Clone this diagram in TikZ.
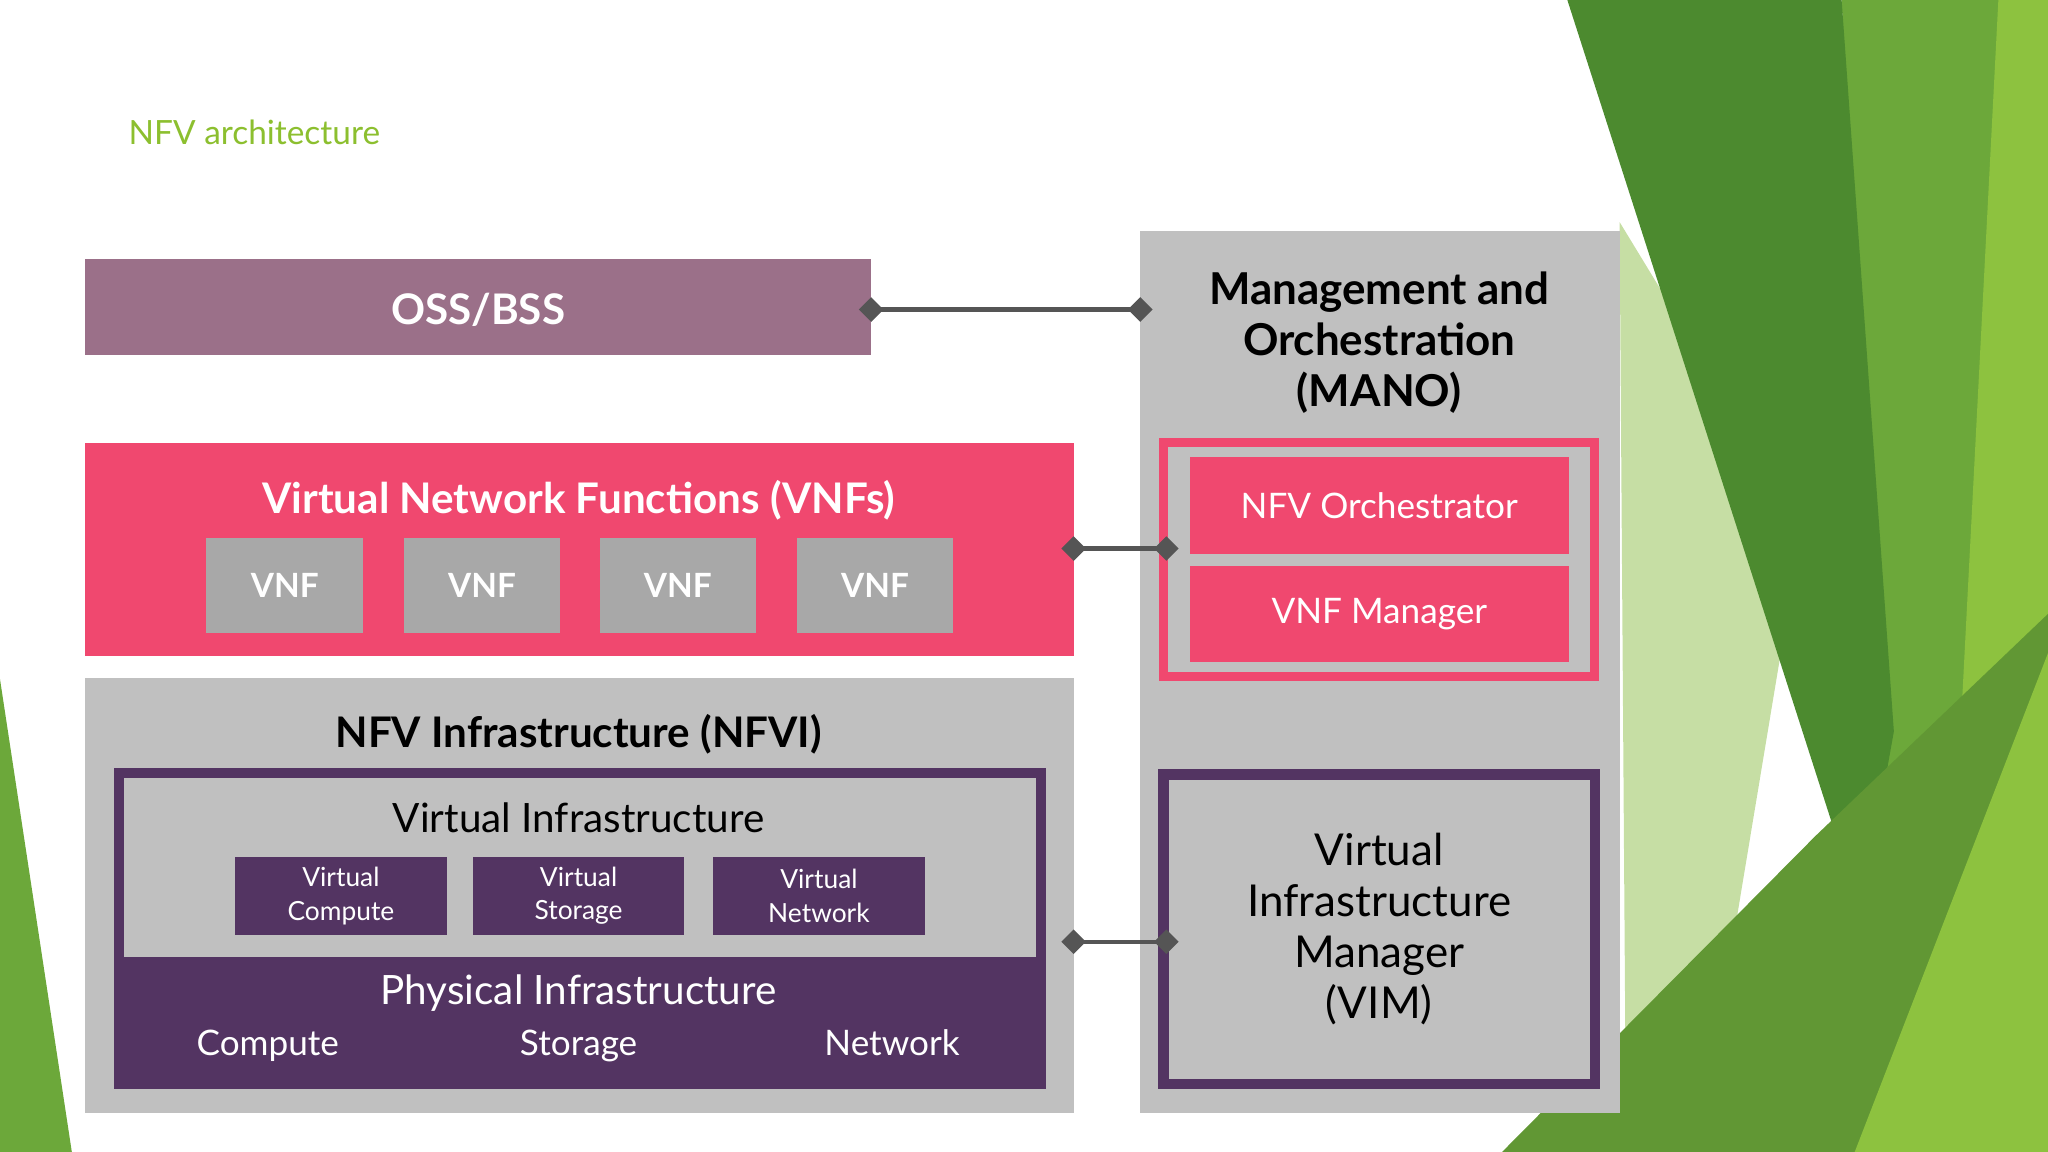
\documentclass[tikz,border=0pt]{standalone}
\usepackage{fontspec}
\setmainfont{Lato}
\usetikzlibrary{arrows.meta}
\definecolor{titlegreen}{HTML}{8CBF2F}
\definecolor{ossc}{HTML}{9B7089}
\definecolor{boxgray}{HTML}{C0C0C0}
\definecolor{vnfgray}{HTML}{A8A8A8}
\definecolor{pinkc}{HTML}{F0486F}
\definecolor{purplec}{HTML}{533462}
\definecolor{linkc}{HTML}{555555}
\definecolor{gdark}{HTML}{4C8A2F}
\definecolor{gmid}{HTML}{6CA83A}
\definecolor{gbright}{HTML}{8DC23F}
\definecolor{gpale}{HTML}{C6DEA4}
\begin{document}
\begin{tikzpicture}[x=0.013061cm,y=-0.013061cm,
  txt/.style={text=#1,align=center,inner sep=0pt},
  link/.style={draw=linkc,line width=1.2pt,shorten <=-3.5pt,shorten >=-3.5pt,
    {Diamond[length=7pt,width=7pt]}-{Diamond[length=7pt,width=7pt]}}]
\useasboundingbox (0,0) rectangle (1568,882);
% background
\fill[gpale] (1240,170) -- (1380,400) -- (1300,882) -- (1245,882) -- cycle;
\fill[gmid] (1410,0) -- (1568,0) -- (1568,882) -- (1380,882) -- (1440,640) -- cycle;
\fill[gdark] (1200,0) -- (1410,0) -- (1450,560) -- (1425,700) -- cycle;
\fill[gbright] (1530,0) -- (1568,0) -- (1568,882) -- (1460,882) -- (1500,580) -- cycle;
\fill[gmid!90!black] (1150,882) -- (1390,640) -- (1568,470) -- (1568,882) -- cycle;
\fill[gbright] (1420,882) -- (1568,500) -- (1568,882) -- cycle;
\fill[gmid] (0,520) -- (55,882) -- (0,882) -- cycle;
% title
\node[txt=titlegreen,anchor=west,font=\fontsize{9.5}{11}\selectfont] (title) at (98,101) {NFV architecture};
% OSS/BSS
\fill[ossc] (65,198) rectangle (667,272);
\node[txt=white,font=\bfseries\fontsize{12}{14}\selectfont] (oss) at (366,237) {OSS/BSS};
\coordinate (ossR) at (667,237);
% MANO
\fill[boxgray] (873,177) rectangle (1240,852);
\coordinate (manoL) at (873,237);
\node[txt=black,font=\bfseries\fontsize{12.5}{14.5}\selectfont] (mano) at (1056,262) {Management and\\Orchestration\\(MANO)};
\draw[pinkc,line width=2.5pt,fill=boxgray] (891,339) rectangle (1221,518);
\fill[pinkc] (911,350) rectangle (1201,424);
\node[txt=white,font=\fontsize{10}{11}\selectfont] (orch) at (1056,387) {NFV Orchestrator};
\fill[pinkc] (911,433) rectangle (1201,507);
\node[txt=white,font=\fontsize{10}{11}\selectfont] (vnfm) at (1056,470) {VNF Manager};
\coordinate (mvnf) at (893,420);
\draw[purplec,line width=3pt,fill=boxgray] (891,593) rectangle (1221,830);
\node[txt=black,font=\fontsize{12.5}{14.5}\selectfont] (vim) at (1056,711) {Virtual\\Infrastructure\\Manager\\(VIM)};
\coordinate (mvim) at (893,721);
% VNFs
\fill[pinkc] (65,339) rectangle (822,502);
\node[txt=white,font=\bfseries\fontsize{12}{13}\selectfont] (vnfs) at (443,383) {Virtual Network Functions (VNFs)};
\foreach \x/\n in {218/a,369/b,519/c,670/d}{
  \fill[vnfgray] (\x-60,412) rectangle (\x+60,485);
  \node[txt=white,font=\bfseries\fontsize{9.5}{11}\selectfont] (vnf\n) at (\x,448) {VNF};
}
\coordinate (vnfsR) at (822,420);
% NFVI
\fill[boxgray] (65,519) rectangle (822,852);
\node[txt=black,font=\bfseries\fontsize{12}{13}\selectfont] (nfvi) at (443,562) {NFV Infrastructure (NFVI)};
\fill[purplec] (89,733) rectangle (799,832);
\draw[purplec,line width=3pt] (91,592) rectangle (797,830);
\node[txt=black,font=\fontsize{11.5}{13}\selectfont] (vi) at (443,626) {Virtual Infrastructure};
\foreach \x/\t/\n in {261/Compute/vc,443/Storage/vs,627/Network/vn}{
  \fill[purplec] (\x-81,656) rectangle (\x+81,716);
  \node[txt=white,font=\fontsize{7.5}{9.5}\selectfont] (\n) at (\x,686) {Virtual\\\t};
}
\node[txt=white,font=\fontsize{11.5}{13}\selectfont] (pi) at (443,760) {Physical Infrastructure};
\node[txt=white,anchor=base,font=\fontsize{10}{11}\selectfont] (pc) at (205,808) {Compute};
\node[txt=white,anchor=base,font=\fontsize{10}{11}\selectfont] (ps) at (443,808) {Storage};
\node[txt=white,anchor=base,font=\fontsize{10}{11}\selectfont] (pn) at (683,808) {Network};
\coordinate (nfviR) at (822,721);
% connectors
\draw[link] (ossR) -- (manoL);
\draw[link] (vnfsR) -- (mvnf);
\draw[link] (nfviR) -- (mvim);
\end{tikzpicture}
\end{document}
